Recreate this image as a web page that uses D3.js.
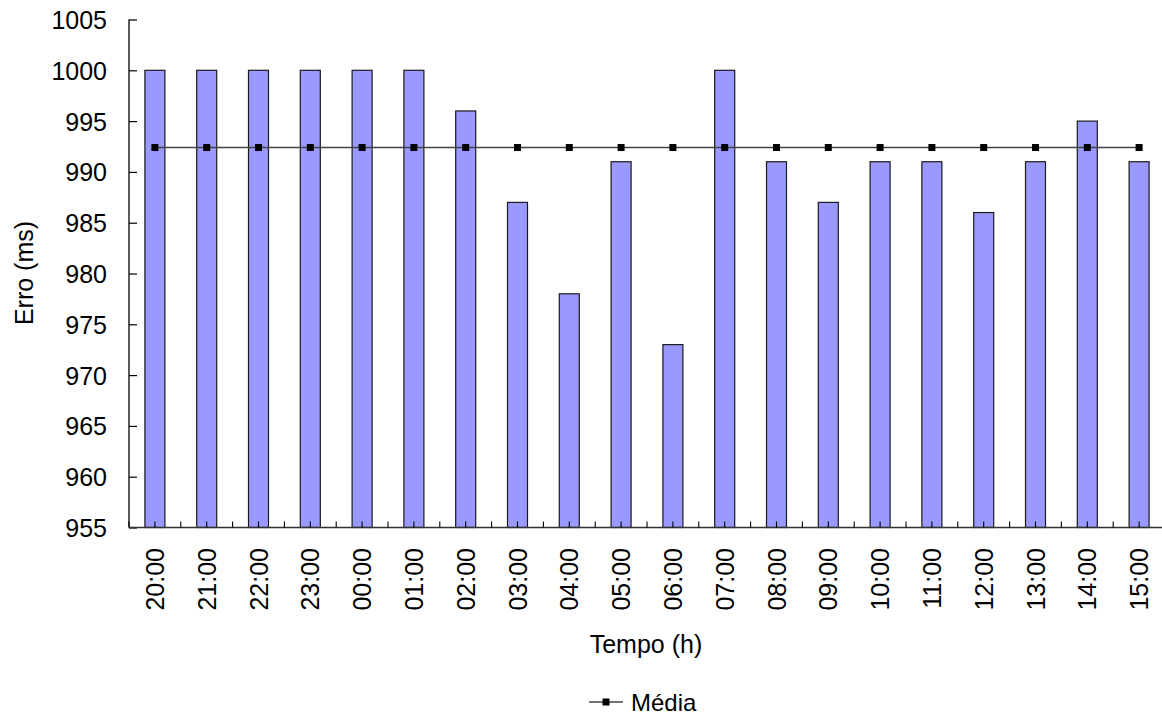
<!DOCTYPE html>
<html>
<head>
<meta charset="utf-8">
<script src="https://cdn.jsdelivr.net/npm/d3@7"></script>
<style>
  html, body { margin: 0; padding: 0; background: #fff; }
  svg { display: block; }
  text { font-family: "Liberation Sans", Arial, sans-serif; fill: #000; }
</style>
</head>
<body>
<svg id="chart" width="1162" height="719"></svg>
<script>
// Hourly error measurements
const hours = ["20:00","21:00","22:00","23:00","00:00","01:00","02:00","03:00","04:00","05:00",
               "06:00","07:00","08:00","09:00","10:00","11:00","12:00","13:00","14:00","15:00"];
const erro = [1000,1000,1000,1000,1000,1000,996,987,978,991,973,1000,991,987,991,991,986,991,995,991];
const mediaValue = d3.mean(erro);
const media = hours.map(() => mediaValue);
const yTicks = [955,960,965,970,975,980,985,990,995,1000,1005];

const svg = d3.select("#chart");
const margin = { left: 129, top: 19.5, bottom: 527.5 };
const step = 51.8;
const plotRight = margin.left + step * hours.length;

const x = d3.scaleBand().domain(hours).range([margin.left, plotRight]).padding(0);
const y = d3.scaleLinear().domain([955, 1005]).range([margin.bottom, margin.top]);
const barW = 20;
const cx = d => x(d) + x.bandwidth() / 2;

// Bars
svg.append("g").selectAll("rect").data(erro).join("rect")
  .attr("x", (d, i) => cx(hours[i]) - barW / 2)
  .attr("y", d => y(d))
  .attr("width", barW)
  .attr("height", d => y(955) - y(d))
  .attr("fill", "#9999ff")
  .attr("stroke", "#1a1a1a")
  .attr("stroke-width", 1.2);

// Y axis
const yAxis = d3.axisLeft(y).tickValues(yTicks).tickSize(-8).tickPadding(22).tickFormat(d3.format("d"));
const gy = svg.append("g").attr("transform", `translate(${margin.left},0)`).call(yAxis);
gy.select(".domain").attr("stroke", "#000").attr("stroke-width", 1.3).attr("d", `M0,${margin.top}V${margin.bottom}`);
gy.selectAll(".tick line").attr("stroke", "#000").attr("stroke-width", 1.2);
gy.selectAll(".tick text").attr("font-size", 25).attr("dy", "0.36em");

// X axis with ticks every half category, pointing inward
const gx = svg.append("g").attr("transform", `translate(0,${margin.bottom})`);
gx.append("line").attr("x1", margin.left).attr("x2", plotRight)
  .attr("stroke", "#333").attr("stroke-width", 1.3);
const halfTicks = d3.range(0, hours.length * 2 + 1).map(k => margin.left + k * step / 2);
gx.selectAll("line.tk").data(halfTicks).join("line").attr("class", "tk")
  .attr("x1", d => d).attr("x2", d => d).attr("y1", 0).attr("y2", -6)
  .attr("stroke", "#000").attr("stroke-width", 1.1);
gx.selectAll("text.lbl").data(hours).join("text").attr("class", "lbl")
  .attr("transform", d => `translate(${cx(d) + 9},${20.5}) rotate(-90)`)
  .attr("text-anchor", "end")
  .attr("font-size", 25)
  .text(d => d);

// Mean line with square markers
const line = d3.line().x((d, i) => cx(hours[i])).y(d => y(d));
svg.append("path").datum(media).attr("d", line)
  .attr("fill", "none").attr("stroke", "#444").attr("stroke-width", 1.4);
svg.append("g").selectAll("rect").data(media).join("rect")
  .attr("x", (d, i) => cx(hours[i]) - 3.5)
  .attr("y", d => y(d) - 3.5)
  .attr("width", 7).attr("height", 7)
  .attr("fill", "#000");

// Axis titles
svg.append("text").attr("x", 646).attr("y", 653).attr("text-anchor", "middle")
  .attr("font-size", 25).text("Tempo (h)");
svg.append("text").attr("transform", "translate(33,273) rotate(-90)").attr("text-anchor", "middle")
  .attr("font-size", 25).text("Erro (ms)");

// Legend
const lg = svg.append("g").attr("transform", "translate(589,702)");
lg.append("line").attr("x1", 0).attr("x2", 34).attr("y1", 0).attr("y2", 0)
  .attr("stroke", "#444").attr("stroke-width", 1.4);
lg.append("rect").attr("x", 13.5).attr("y", -3.5).attr("width", 7).attr("height", 7).attr("fill", "#000");
lg.append("text").attr("x", 42).attr("y", 9).attr("font-size", 24).text("Média");
</script>
</body>
</html>
